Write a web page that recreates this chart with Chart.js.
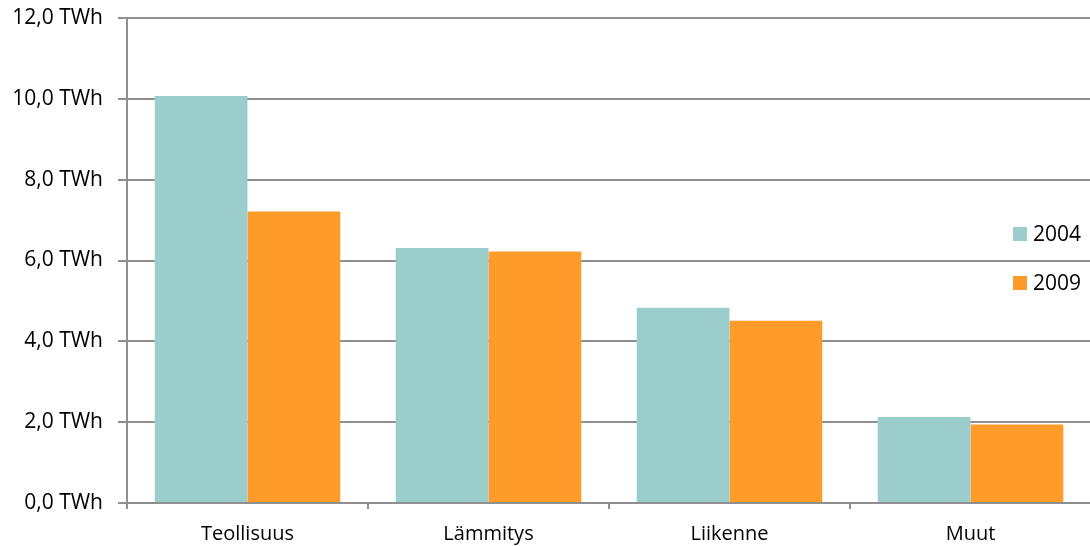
<!DOCTYPE html>
<html>
<head>
<meta charset="utf-8">
<script src="https://cdn.jsdelivr.net/npm/chart.js@4/dist/chart.umd.min.js"></script>
<style>
  html, body { margin: 0; padding: 0; background: #fff; overflow: hidden; }
  #wrap { width: 1092px; height: 546px; position: relative; }
</style>
</head>
<body>
<div id="wrap"><canvas id="c"></canvas></div>
<script>
const categories = ['Teollisuus', 'Lämmitys', 'Liikenne', 'Muut'];
const seriesNames = ['2004', '2009'];
const values2004 = [10.07, 6.31, 4.83, 2.13];
const values2009 = [7.21, 6.22, 4.51, 1.94];
const yTicks = [0, 2, 4, 6, 8, 10, 12];
const colors = ['#9BCDCD', '#FF9B2B'];

Chart.defaults.font.family = "'Open Sans', sans-serif";
Chart.defaults.font.size = 20;
Chart.defaults.color = '#000';

const GRID = '#8f8f8f';

const legendPlugin = {
  id: 'customLegend',
  afterDraw(chart) {
    const ctx = chart.ctx;
    ctx.save();
    ctx.font = "21px 'Open Sans', sans-serif";
    ctx.textBaseline = 'middle';
    ctx.textAlign = 'left';
    const ys = [234, 283];
    chart.data.datasets.forEach((ds, i) => {
      ctx.fillStyle = ds.backgroundColor;
      ctx.fillRect(1013, ys[i] - 7, 14, 14);
      ctx.fillStyle = '#000';
      ctx.fillText(ds.label, 1033, ys[i] + 1);
    });
    ctx.restore();
  }
};

new Chart(document.getElementById('c'), {
  type: 'bar',
  data: {
    labels: categories,
    datasets: [
      { label: seriesNames[0], data: values2004, backgroundColor: colors[0], borderWidth: 0 },
      { label: seriesNames[1], data: values2009, backgroundColor: colors[1], borderWidth: 0 }
    ]
  },
  options: {
    responsive: true,
    maintainAspectRatio: false,
    animation: false,
    layout: { autoPadding: false, padding: { top: 18, right: 1, left: 0, bottom: 0 } },
    plugins: { legend: { display: false }, tooltip: { enabled: false } },
    datasets: { bar: { categoryPercentage: 0.77, barPercentage: 1.0 } },
    scales: {
      x: {
        afterFit(scale) { scale.height = 43; scale.paddingLeft = 0; scale.paddingRight = 0; },
        grid: { offset: true, drawOnChartArea: false, drawTicks: true, tickLength: 6, color: GRID, lineWidth: 2 },
        border: { display: true, color: GRID, width: 2 },
        ticks: { padding: 13, maxRotation: 0, autoSkip: false, font: { size: 20 } }
      },
      y: {
        min: 0, max: 12,
        afterFit(scale) { scale.width = 127; scale.paddingTop = 0; scale.paddingBottom = 0; },
        afterBuildTicks(scale) { scale.ticks = yTicks.map(v => ({ value: v })); },
        grid: { color: GRID, lineWidth: 2, drawTicks: true, tickLength: 9 },
        border: { display: true, color: GRID, width: 2 },
        ticks: {
          padding: 15,
          font: { size: 21 },
          callback: v => v.toFixed(1).replace('.', ',') + ' TWh'
        }
      }
    }
  },
  plugins: [legendPlugin]
});
</script>
</body>
</html>
